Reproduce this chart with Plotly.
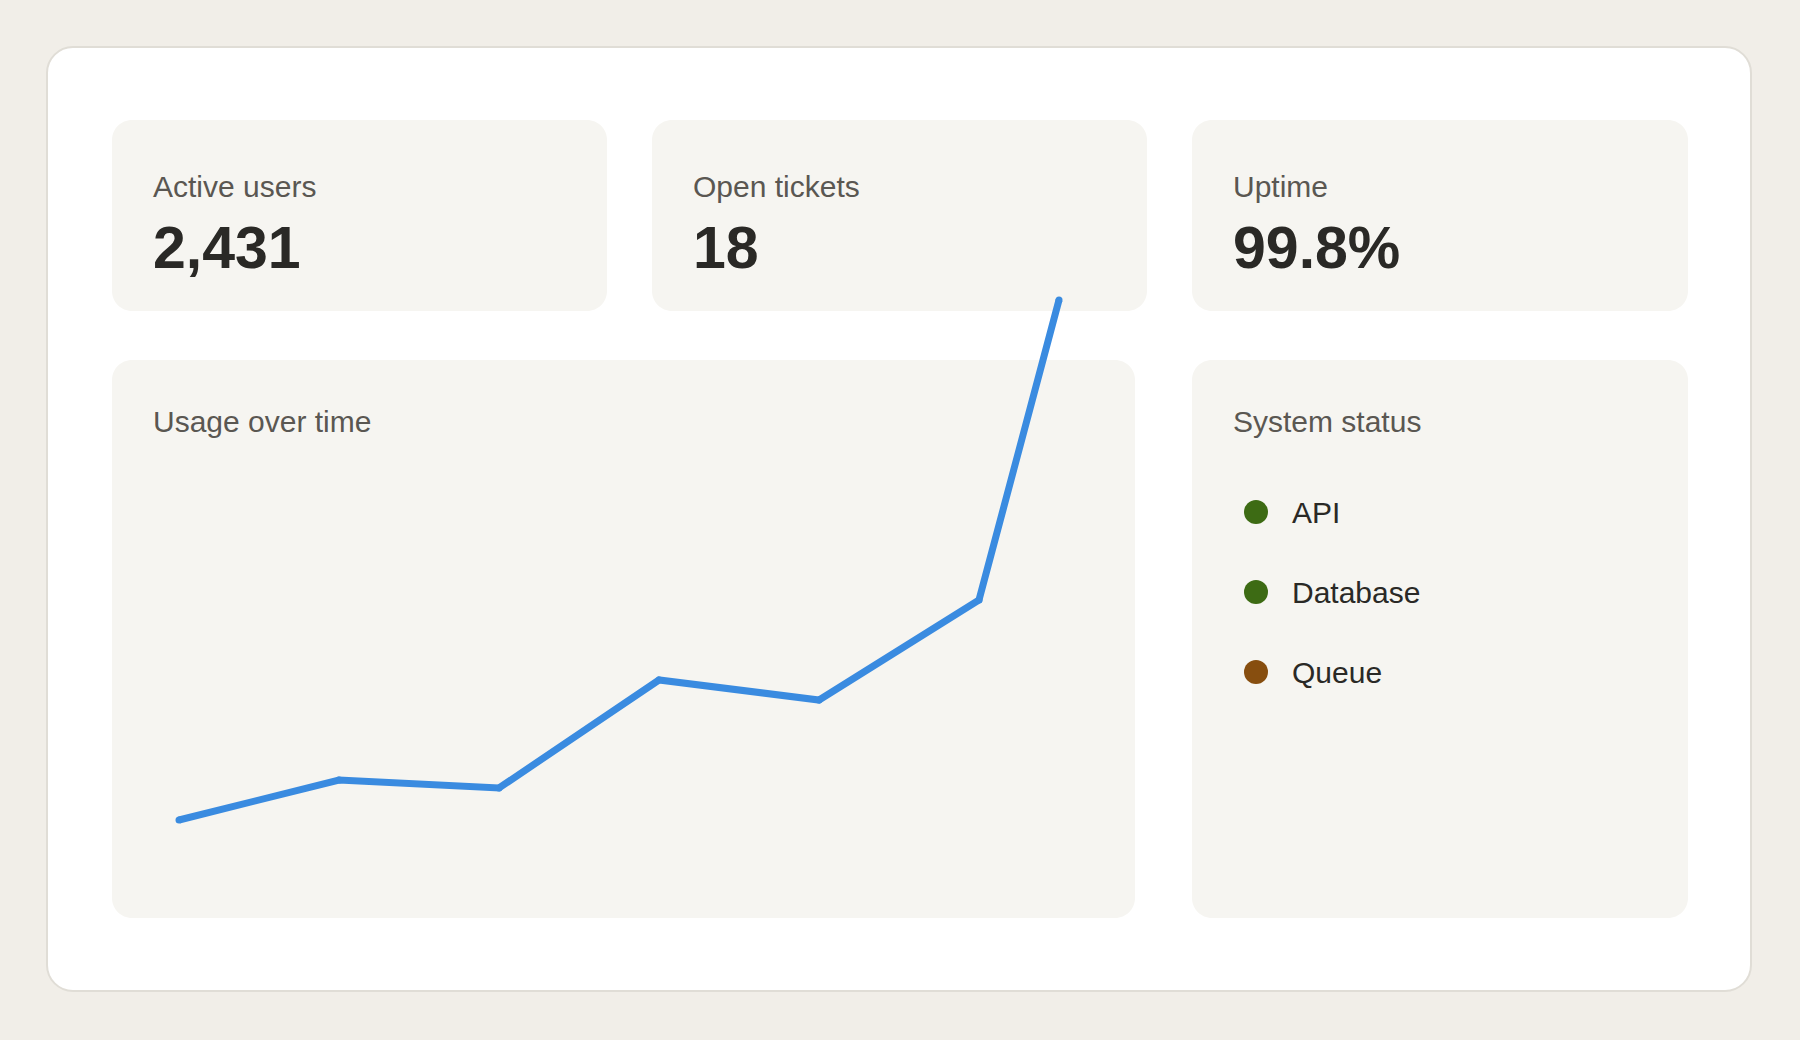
import plotly.graph_objects as go

W, H = 1800, 1040

# KPI tiles
kpi_labels = ["Active users", "Open tickets", "Uptime"]
kpi_values = ["2,431", "18", "99.8%"]

# usage series
usage_x = [0, 1, 2, 3, 4, 5, 5.5]
usage_y = [10, 20, 18, 45, 40, 65, 140]

# system status
status_names = ["API", "Database", "Queue"]
status_colors = ["#3d6b14", "#3d6b14", "#874e0f"]

BG = "#f1eee8"
CARD = "#ffffff"
TILE = "#f6f5f1"
LABEL = "#5a5752"
DARK = "#2a2926"
FONT = "Liberation Sans, Arial, sans-serif"


def px(x):
    return x / W


def py(y):
    return 1 - y / H


def rounded(x0, y0, x1, y1, r):
    k = 0.5523 * r
    pts = [
        f"M{px(x0 + r)},{py(y0)}",
        f"L{px(x1 - r)},{py(y0)}",
        f"C{px(x1 - r + k)},{py(y0)} {px(x1)},{py(y0 + r - k)} {px(x1)},{py(y0 + r)}",
        f"L{px(x1)},{py(y1 - r)}",
        f"C{px(x1)},{py(y1 - r + k)} {px(x1 - r + k)},{py(y1)} {px(x1 - r)},{py(y1)}",
        f"L{px(x0 + r)},{py(y1)}",
        f"C{px(x0 + r - k)},{py(y1)} {px(x0)},{py(y1 - r + k)} {px(x0)},{py(y1 - r)}",
        f"L{px(x0)},{py(y0 + r)}",
        f"C{px(x0)},{py(y0 + r - k)} {px(x0 + r - k)},{py(y0)} {px(x0 + r)},{py(y0)}",
        "Z",
    ]
    return " ".join(pts)


shapes = [dict(type="path", xref="paper", yref="paper", path=rounded(47, 47, 1751, 991, 26),
               fillcolor=CARD, line=dict(color="#e0ddd6", width=2), layer="below")]
tile_x = [(112, 607), (652, 1147), (1192, 1688)]
for x0, x1 in tile_x:
    shapes.append(dict(type="path", xref="paper", yref="paper", path=rounded(x0, 120, x1, 311, 20),
                       fillcolor=TILE, line=dict(width=0), layer="below"))
shapes.append(dict(type="path", xref="paper", yref="paper", path=rounded(112, 360, 1135, 918, 20),
                   fillcolor=TILE, line=dict(width=0), layer="below"))
shapes.append(dict(type="path", xref="paper", yref="paper", path=rounded(1192, 360, 1688, 918, 20),
                   fillcolor=TILE, line=dict(width=0), layer="below"))

annotations = []
for (x0, _), lab, val in zip(tile_x, kpi_labels, kpi_values):
    annotations.append(dict(x=px(x0 + 39), y=py(186), text=lab, showarrow=False, xanchor="left",
                            yanchor="middle", xref="paper", yref="paper",
                            font=dict(family=FONT, size=30, color=LABEL)))
    annotations.append(dict(x=px(x0 + 39), y=py(248), text=f"<b>{val}</b>", showarrow=False,
                            xanchor="left", yanchor="middle", xref="paper", yref="paper",
                            font=dict(family=FONT, size=59, color=DARK)))
for x0, lab in [(151, "Usage over time"), (1231, "System status")]:
    annotations.append(dict(x=px(x0), y=py(421), text=lab, showarrow=False, xanchor="left",
                            yanchor="middle", xref="paper", yref="paper",
                            font=dict(family=FONT, size=30, color=LABEL)))
for i, name in enumerate(status_names):
    annotations.append(dict(x=1290, y=i, text=name, showarrow=False, xanchor="left",
                            yanchor="middle", xref="x2", yref="y2",
                            font=dict(family=FONT, size=30, color=DARK)))

fig = go.Figure()
fig.add_trace(go.Scatter(x=usage_x, y=usage_y, mode="lines+markers",
                         line=dict(color="#3a8be0", width=7),
                         marker=dict(size=7, color="#3a8be0", line=dict(width=0)),
                         hoverinfo="skip"))
fig.add_trace(go.Scatter(x=[1256] * len(status_names), y=list(range(len(status_names))),
                         mode="markers", xaxis="x2", yaxis="y2",
                         marker=dict(size=24, color=status_colors, line=dict(width=0)),
                         hoverinfo="skip"))

# x=0 sits at 179px, one step = 160px; y=0 at 860px, 4px per unit
step = 160.0
fig.update_layout(
    width=W, height=H,
    margin=dict(l=0, r=0, t=0, b=0),
    paper_bgcolor=BG, plot_bgcolor="rgba(0,0,0,0)",
    showlegend=False,
    xaxis=dict(range=[-179 / step, (W - 179) / step], visible=False, fixedrange=True),
    yaxis=dict(range=[-(H - 860) / 4, 860 / 4], visible=False, fixedrange=True),
    xaxis2=dict(range=[0, W], visible=False, overlaying="x", fixedrange=True),
    yaxis2=dict(range=[(H - 512) / 80, -512 / 80], visible=False, overlaying="y", fixedrange=True),
    shapes=shapes,
    annotations=annotations,
)

# drop the default page margin so the figure fills the window
fig.write_html("out.html", config={"displayModeBar": False}, post_script=(
    "document.body.style.margin='0';"
    "document.body.style.overflow='hidden';"
    f"document.body.style.background='{BG}';"
))
